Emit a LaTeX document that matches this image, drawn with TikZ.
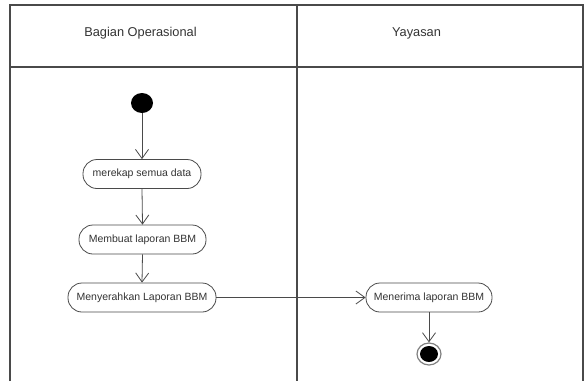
\documentclass[tikz,border=0pt]{standalone}
\usepackage{fontspec}
\setmainfont{Liberation Sans}
\usetikzlibrary{arrows.meta,shapes.geometric}
\definecolor{linec}{HTML}{4A4A4A}
\definecolor{textc}{HTML}{333333}
\begin{document}
\begin{tikzpicture}[x=1pt,y=-1pt,
  lane/.style={draw=linec,line width=1.1pt},
  act/.style={draw=linec,line width=0.8pt,rounded corners=14pt,minimum height=29pt,inner sep=0pt,text=textc,font=\fontsize{10.5}{12}\selectfont},
  hdr/.style={text=textc,font=\fontsize{12.8}{15}\selectfont,inner sep=0pt},
  flow/.style={draw=linec,line width=0.8pt,-{Straight Barb[length=9pt,width=13pt,line width=0.8pt]}}]
\useasboundingbox (0,0) rectangle (586,381);
% swimlanes
\coordinate (tl) at (10,5);
\coordinate (tr) at (583,5);
\coordinate (tm) at (297,5);
\coordinate (bl) at (10,381);
\coordinate (br) at (583,381);
\coordinate (bm) at (297,381);
\coordinate (hl) at (10,67);
\coordinate (hr) at (583,67);
\draw[lane] (bl) -- (tl) -- (tr) -- (br);
\draw[lane] (tm) -- (bm);
\draw[lane] (hl) -- (hr);
\node[hdr] (h1) at (140.5,33) {Bagian Operasional};
\node[hdr] (h2) at (416.5,33) {Yayasan};
% start
\node[ellipse,fill=black,minimum width=22pt,minimum height=20pt,inner sep=0pt] (start) at (142,103) {};
% activities
\node[act,minimum width=118pt] (a1) at (142,174) {merekap semua data};
\node[act,minimum width=127pt] (a2) at (142.5,239.5) {Membuat laporan BBM};
\node[act,minimum width=148pt] (a3) at (142,297.5) {Menyerahkan Laporan BBM};
\node[act,minimum width=126pt] (a4) at (429,297.5) {Menerima laporan BBM};
% end
\node[ellipse,draw=gray,line width=1.2pt,fill=white,minimum width=24pt,minimum height=22pt,inner sep=0pt] (stop) at (429,354) {};
\node[ellipse,fill=black,minimum width=18pt,minimum height=16pt,inner sep=0pt] (stopin) at (stop.center) {};
% flows
\draw[flow] (start.south) -- (a1.north);
\draw[flow] (a1.south) -- (a2.north);
\draw[flow] (a2.south) -- (a3.north);
\draw[flow] (a3.east) -- (a4.west);
\draw[flow] (a4.south) -- (stop.north);
\end{tikzpicture}
\end{document}
